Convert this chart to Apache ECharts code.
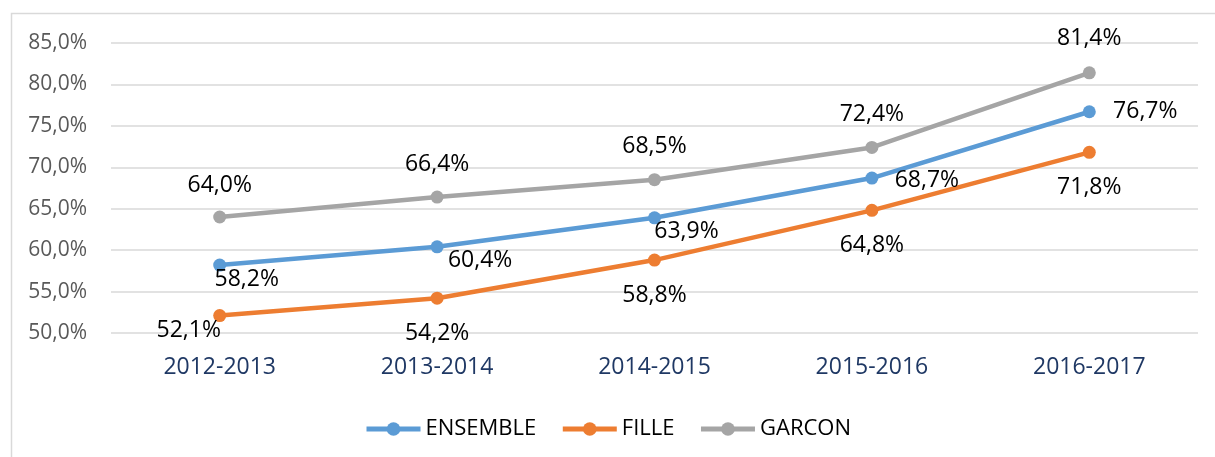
<!DOCTYPE html>
<html>
<head>
<meta charset="utf-8">
<script src="https://cdn.jsdelivr.net/npm/echarts@6/dist/echarts.min.js"></script>
<style>
  html, body { margin: 0; padding: 0; background: #fff; }
  #chart { width: 1215px; height: 457px; }
</style>
</head>
<body>
<div id="chart"></div>
<script>
// School years on the category axis
const categories = ['2012-2013', '2013-2014', '2014-2015', '2015-2016', '2016-2017'];

// Rates in percent
const ensemble = [58.2, 60.4, 63.9, 68.7, 76.7];
const fille = [52.1, 54.2, 58.8, 64.8, 71.8];
const garcon = [64.0, 66.4, 68.5, 72.4, 81.4];

// Value axis range
const yMin = 50, yMax = 85, yStep = 5;

// Label placement around each point (dx, dy from the marker centre)
const ensembleLabelOffsets = [[27, 14], [43, 14], [32, 14], [55, 2], [56, 0]];
const filleLabelOffsets = [[-31, 15], [0, 35], [0, 35], [0, 35], [0, 35]];
const garconLabelOffsets = [[0, -32], [0, -33], [0, -33], [0, -33], [0, -34]];

const FONT = '"Open Sans", "Noto Sans", sans-serif';
const fmt = v => v.toFixed(1).replace('.', ',') + '%';

function buildData(values, offsets) {
  return values.map((v, i) => ({
    value: v,
    label: { position: 'inside', offset: offsets[i] }
  }));
}

function lineSeries(name, values, offsets, color) {
  return {
    name: name,
    type: 'line',
    data: buildData(values, offsets),
    symbol: 'circle',
    symbolSize: 13,
    lineStyle: { color: color, width: 4.5 },
    itemStyle: { color: color },
    label: {
      show: true,
      formatter: p => fmt(p.value),
      color: '#000',
      fontFamily: FONT,
      fontSize: 23
    },
    emphasis: { disabled: true },
    animation: false,
    z: 3
  };
}

const chart = echarts.init(document.getElementById('chart'), null, { renderer: 'canvas' });
chart.setOption({
  backgroundColor: '#fff',
  animation: false,
  graphic: [{
    type: 'rect',
    shape: { x: 11.5, y: 13.5, width: 1220, height: 460 },
    style: { fill: 'none', stroke: '#d9d9d9', lineWidth: 1.5 },
    silent: true,
    z: 0
  }],
  grid: { left: 111, right: 17, top: 43, bottom: 124 },
  legend: {
    bottom: 12,
    left: 'center',
    itemWidth: 54,
    itemHeight: 17,
    itemGap: 24,
    lineStyle: { width: 5 },
    textStyle: { color: '#000', fontFamily: FONT, fontSize: 22 },
    data: ['ENSEMBLE', 'FILLE', 'GARCON']
  },
  xAxis: {
    type: 'category',
    data: categories,
    boundaryGap: true,
    axisLine: { show: false },
    axisTick: { show: false },
    axisLabel: { color: '#1f3864', fontFamily: FONT, fontSize: 23, margin: 23 }
  },
  yAxis: {
    type: 'value',
    min: yMin,
    max: yMax,
    interval: yStep,
    axisLine: { show: false },
    axisTick: { show: false },
    splitLine: { lineStyle: { color: '#d9d9d9', width: 1.5 } },
    axisLabel: {
      color: '#595959',
      fontFamily: FONT,
      fontSize: 21,
      margin: 24,
      formatter: v => fmt(v)
    }
  },
  series: [
    lineSeries('ENSEMBLE', ensemble, ensembleLabelOffsets, '#5b9bd5'),
    lineSeries('FILLE', fille, filleLabelOffsets, '#ed7d31'),
    lineSeries('GARCON', garcon, garconLabelOffsets, '#a5a5a5')
  ]
});
</script>
</body>
</html>
